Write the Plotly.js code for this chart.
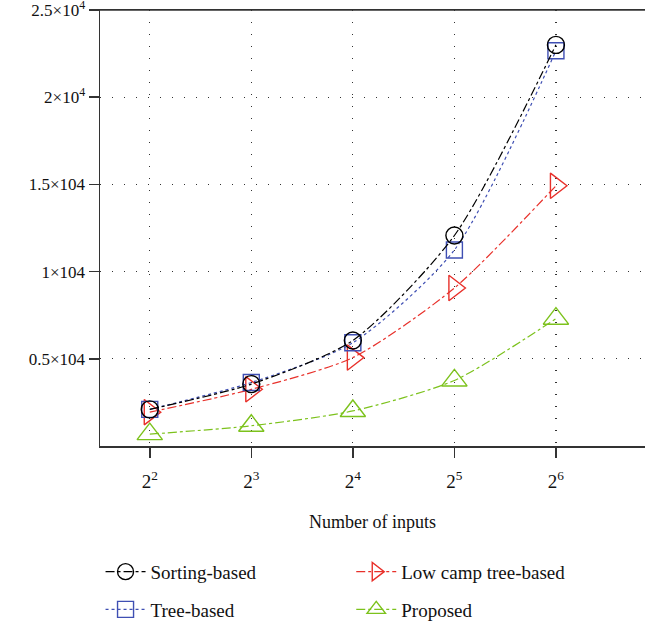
<!DOCTYPE html>
<html>
<head>
<meta charset="utf-8">
<script src="https://cdn.plot.ly/plotly-3.0.1.min.js"></script>
<style>html,body{margin:0;padding:0;background:#fff;}#chart{width:645px;height:629px;}</style>
</head>
<body>
<div id="chart"></div>
<script>
const categories = [0, 1, 2, 3, 4];
const xTickLabels = ['2<sup>2</sup>', '2<sup>3</sup>', '2<sup>4</sup>', '2<sup>5</sup>', '2<sup>6</sup>'];
const yTickVals = [5000, 10000, 15000, 20000, 25000];
const yTickLabels = ['0.5×104', '1×104', '1.5×104', '2×10<sup>4</sup>', '2.5×10<sup>4</sup>'];

const sortingBased = [2100, 3550, 6050, 12070, 23000];
const treeBased = [2100, 3640, 5920, 11240, 22660];
const lowCampTreeBased = [1940, 3250, 5070, 9060, 14920];
const proposed = [680, 1160, 2010, 3760, 7300];

const FONT = 'Liberation Serif, Times New Roman, serif';

function tr(name, y, color, symbol, dash, size, legend, rank) {
  return {
    x: categories, y: y, name: name, type: 'scatter', mode: 'lines+markers',
    line: {color: color, width: 1.2, dash: dash, shape: 'spline', smoothing: 0.7},
    marker: {symbol: symbol, size: size, color: color, line: {color: color, width: 1.4}},
    legend: legend, legendgroup: name, legendrank: rank
  };
}

const data = [
  tr('Proposed', proposed, '#7cc21c', 'triangle-up-open', 'dashdot', 22, 'legend2', 2),
  tr('Low camp tree-based', lowCampTreeBased, '#e8302a', 'triangle-right-open', 'dashdot', 22, 'legend2', 1),
  tr('Tree-based', treeBased, '#3f4fb3', 'square-open', 'dot', 16, 'legend', 2),
  tr('Sorting-based', sortingBased, '#000000', 'circle-open', 'dashdot', 17, 'legend', 1)
];

const legendCommon = {
  orientation: 'v', yanchor: 'top', xanchor: 'left',
  font: {family: FONT, size: 19, color: '#111'},
  bgcolor: 'rgba(0,0,0,0)', itemwidth: 40, tracegroupgap: 10, traceorder: 'grouped'
};

const layout = {
  width: 645, height: 629,
  margin: {l: 100, r: 0, t: 10, b: 180},
  paper_bgcolor: '#fff', plot_bgcolor: '#fff',
  font: {family: FONT, size: 17, color: '#111'},
  showlegend: true,
  xaxis: {
    range: [-0.49, 4.877],
    tickmode: 'array', tickvals: categories, ticktext: xTickLabels,
    ticks: 'outside', ticklen: 10, tickwidth: 1.5, tickcolor: '#333',
    ticklabelstandoff: 8,
    showline: true, linecolor: '#333', linewidth: 1.5, mirror: true,
    showgrid: true, gridcolor: '#333', gridwidth: 1.2, griddash: '1px,11px',
    zeroline: false,
    tickfont: {family: FONT, size: 19, color: '#111'},
    title: {text: 'Number of inputs', font: {family: FONT, size: 18, color: '#111'}, standoff: 24}
  },
  yaxis: {
    range: [0, 25000],
    tickmode: 'array', tickvals: yTickVals, ticktext: yTickLabels,
    ticks: 'outside', ticklen: 10, tickwidth: 1.5, tickcolor: '#333',
    ticklabeloverflow: 'allow',
    showline: true, linecolor: '#333', linewidth: 1.5, mirror: false,
    showgrid: true, gridcolor: '#333', gridwidth: 1.2, griddash: '1px,11px',
    zeroline: false,
    tickfont: {family: FONT, size: 17, color: '#111'}
  },
  shapes: [
    {type: 'line', xref: 'paper', yref: 'paper', x0: 0, x1: 1, y0: 1, y1: 1,
     line: {color: '#333', width: 1.5}, layer: 'above'}
  ],
  legend: Object.assign({}, legendCommon, {x: 0.001, y: -0.245}),
  legend2: Object.assign({}, legendCommon, {x: 0.461, y: -0.245})
};

Plotly.newPlot('chart', data, layout, {displayModeBar: false, staticPlot: true});
</script>
</body>
</html>
